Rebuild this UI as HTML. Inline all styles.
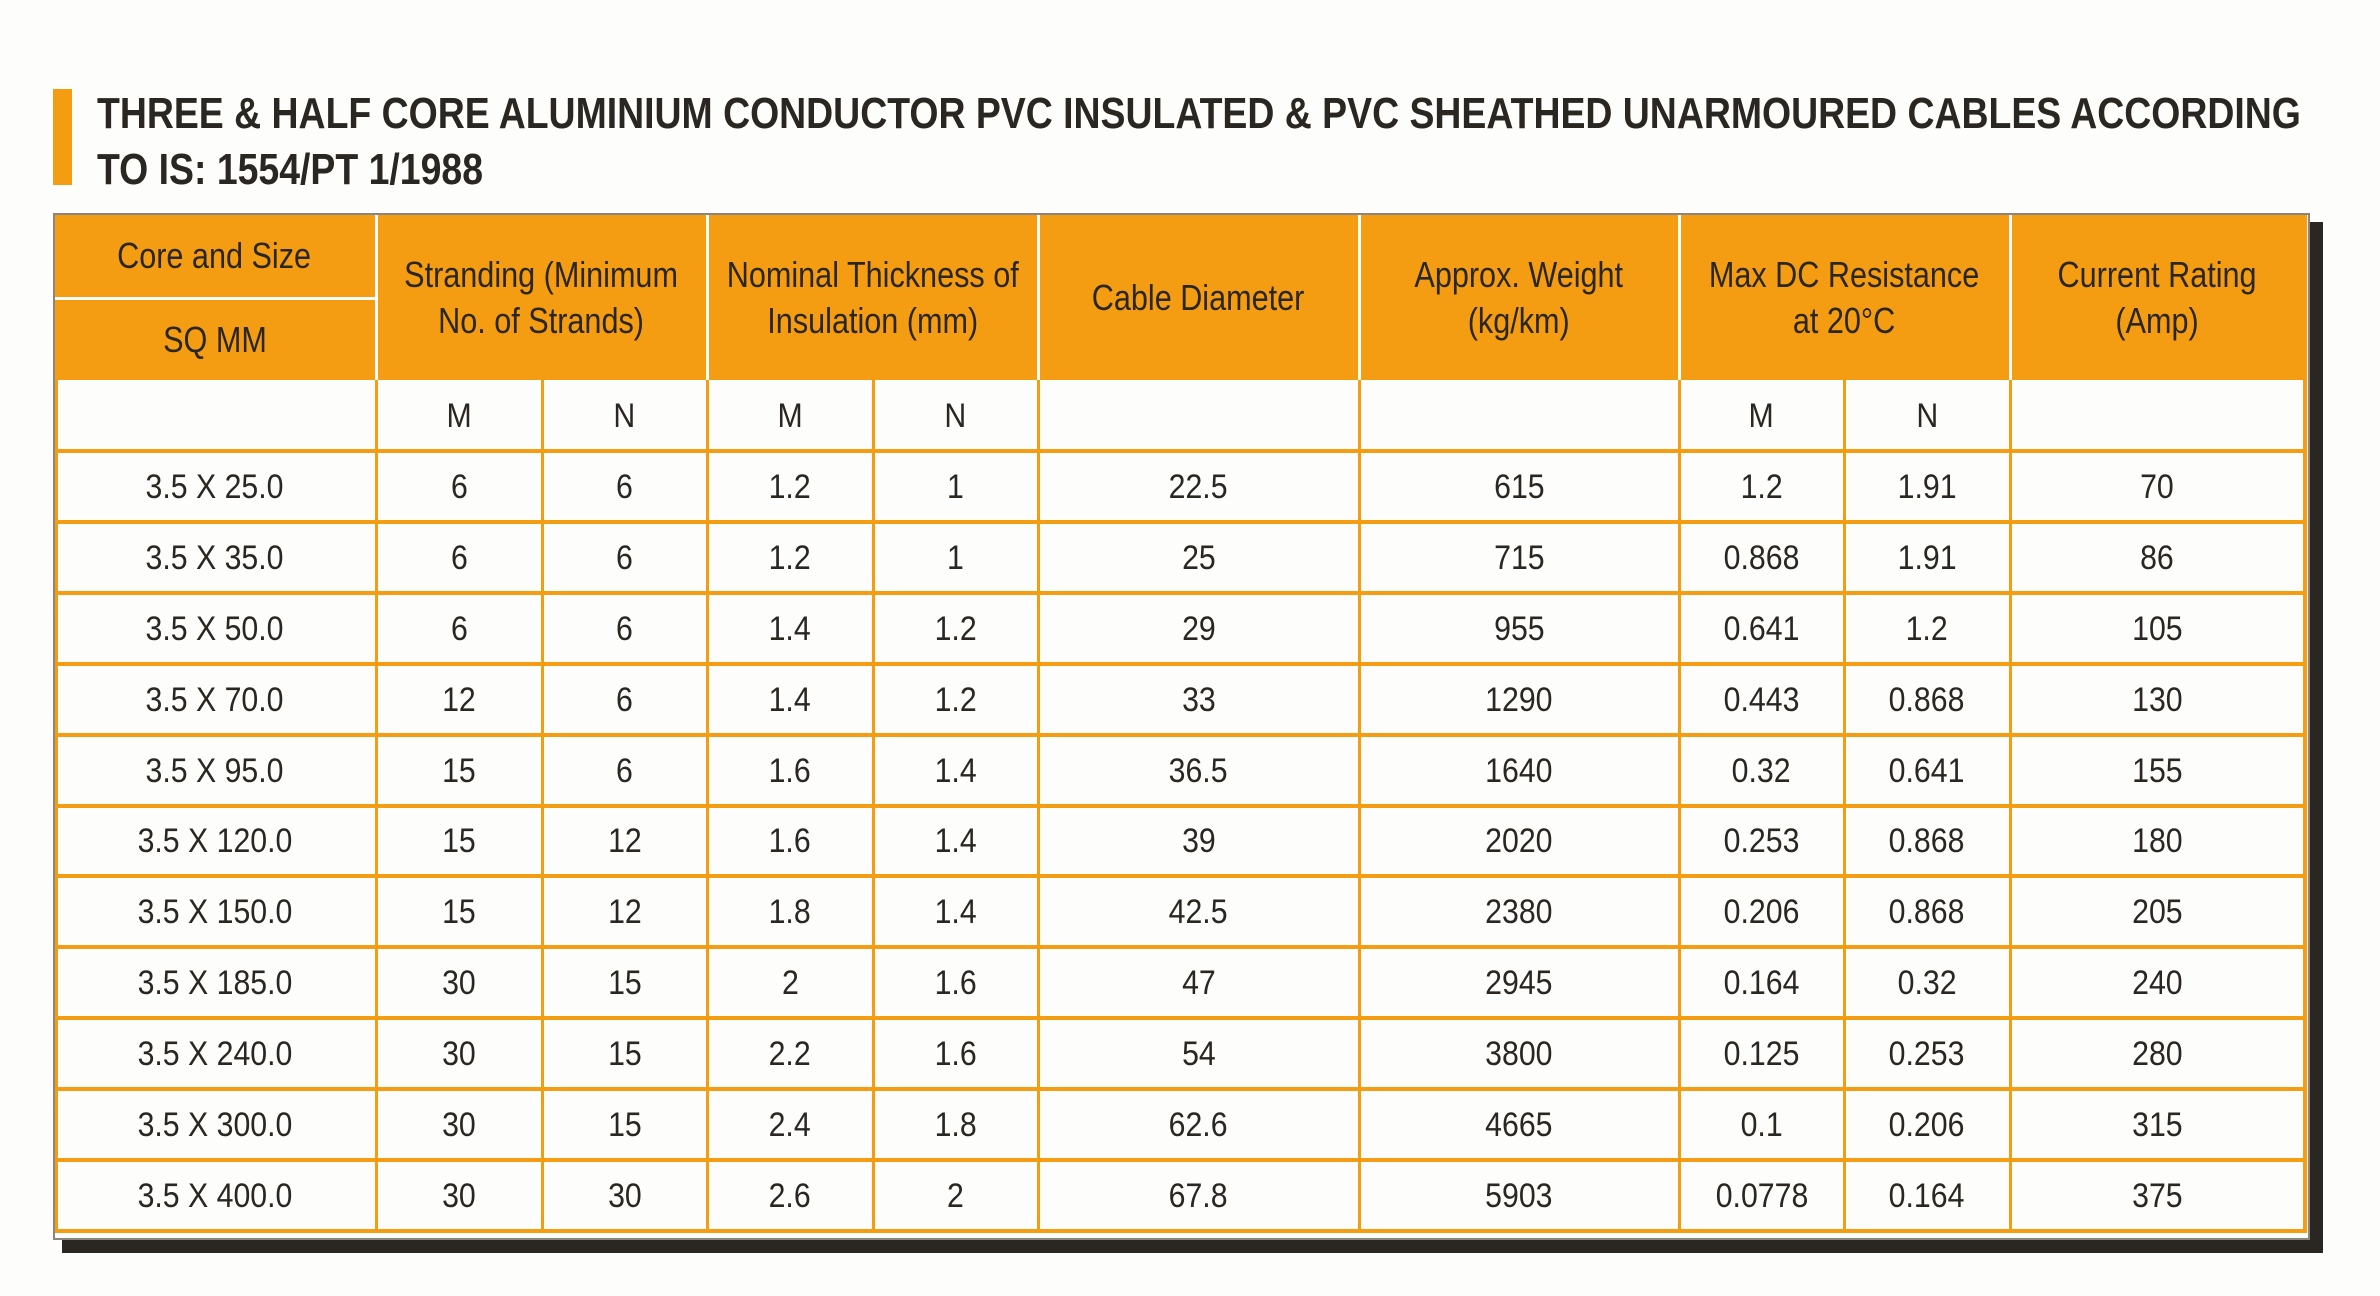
<!DOCTYPE html>
<html><head><meta charset="utf-8"><style>
html,body{margin:0;padding:0;background:#fdfdfb;}
body{width:2380px;height:1296px;position:relative;overflow:hidden;font-family:"Liberation Sans",sans-serif;color:#2a2622;}
.a{position:absolute;}
.t{position:absolute;display:flex;align-items:center;justify-content:center;text-align:center;line-height:46px;white-space:nowrap;}
.t span{display:inline-block;}
.h{font-size:36px;}
.h span{transform:scaleX(0.85);}
.b{font-size:34px;}
.b span{transform:scaleX(0.89);}
.ti{position:absolute;left:97px;font-weight:bold;font-size:44px;line-height:50px;white-space:nowrap;transform-origin:0 50%;transform:scaleX(0.85);color:#2a2622;}
</style></head><body>
<div class="a" style="left:53px;top:89px;width:19px;height:96px;background:#f59d12"></div>
<div class="ti" style="top:89px">THREE &amp; HALF CORE ALUMINIUM CONDUCTOR PVC INSULATED &amp; PVC SHEATHED UNARMOURED CABLES ACCORDING</div>
<div class="ti" style="top:145px">TO IS: 1554/PT 1/1988</div>
<div class="a" style="left:62px;top:222px;width:2261px;height:1031px;background:#2a2622"></div>
<div class="a" style="left:53px;top:213px;width:2257px;height:1027px;background:#8a857e"></div>
<div class="a" style="left:55px;top:215px;width:2253px;height:1023px;background:#fdfdfb"></div>
<div id="g"></div>
<script>
var g=document.getElementById('g'),h='';
var O='#f59d12';
var C=[53,376,542,707,873,1038,1359,1679,1844,2010,2304];
function r(x,y,w,hh,c){h+='<div class="a" style="left:'+x+'px;top:'+y+'px;width:'+w+'px;height:'+hh+'px;background:'+c+'"></div>';}
function t(x1,x2,y1,y2,s,cl){h+='<div class="t '+cl+'" style="left:'+x1+'px;top:'+y1+'px;width:'+(x2-x1)+'px;height:'+(y2-y1)+'px"><span>'+s+'</span></div>';}
r(55,215,2252,165,O);
[376,707,1038,1359,1679,2010].forEach(function(x){r(x-1,215,3,165,'#fdfdfb');});
r(55,297,321,3,'#fdfdfb');
var R=[380,451];for(var i=1;i<=11;i++)R.push(Math.round(451+i*70.9));
r(55,380,3,852,O);r(2303,380,4,853,O);
for(var i=1;i<R.length;i++)r(55,R[i]-2,2252,4,O);
[376,542,707,873,1038,1359,1679,1844,2010].forEach(function(x){r(x-1,380,3,852,O);});
t(53,376,215,297,'Core and Size','h');
t(53,376,299,380,'SQ MM','h');
var H=['Stranding (Minimum<br>No. of Strands)','Nominal Thickness of<br>Insulation (mm)','Cable Diameter','Approx. Weight<br>(kg/km)','Max DC Resistance<br>at 20°C','Current Rating<br>(Amp)'];
var HC=[[376,707],[707,1038],[1038,1359],[1359,1679],[1679,2010],[2010,2304]];
HC.forEach(function(c,i){t(c[0],c[1],215,380,H[i],'h');});
var S=['','M','N','M','N','','','M','N',''];
for(var j=0;j<10;j++)t(C[j],C[j+1],380,451,S[j],'b');
var D=[
['3.5 X 25.0','6','6','1.2','1','22.5','615','1.2','1.91','70'],
['3.5 X 35.0','6','6','1.2','1','25','715','0.868','1.91','86'],
['3.5 X 50.0','6','6','1.4','1.2','29','955','0.641','1.2','105'],
['3.5 X 70.0','12','6','1.4','1.2','33','1290','0.443','0.868','130'],
['3.5 X 95.0','15','6','1.6','1.4','36.5','1640','0.32','0.641','155'],
['3.5 X 120.0','15','12','1.6','1.4','39','2020','0.253','0.868','180'],
['3.5 X 150.0','15','12','1.8','1.4','42.5','2380','0.206','0.868','205'],
['3.5 X 185.0','30','15','2','1.6','47','2945','0.164','0.32','240'],
['3.5 X 240.0','30','15','2.2','1.6','54','3800','0.125','0.253','280'],
['3.5 X 300.0','30','15','2.4','1.8','62.6','4665','0.1','0.206','315'],
['3.5 X 400.0','30','30','2.6','2','67.8','5903','0.0778','0.164','375']];
D.forEach(function(row,i){for(var j=0;j<10;j++)t(C[j],C[j+1],R[i+1],R[i+2],row[j],'b');});
g.innerHTML=h;
</script>
</body></html>
